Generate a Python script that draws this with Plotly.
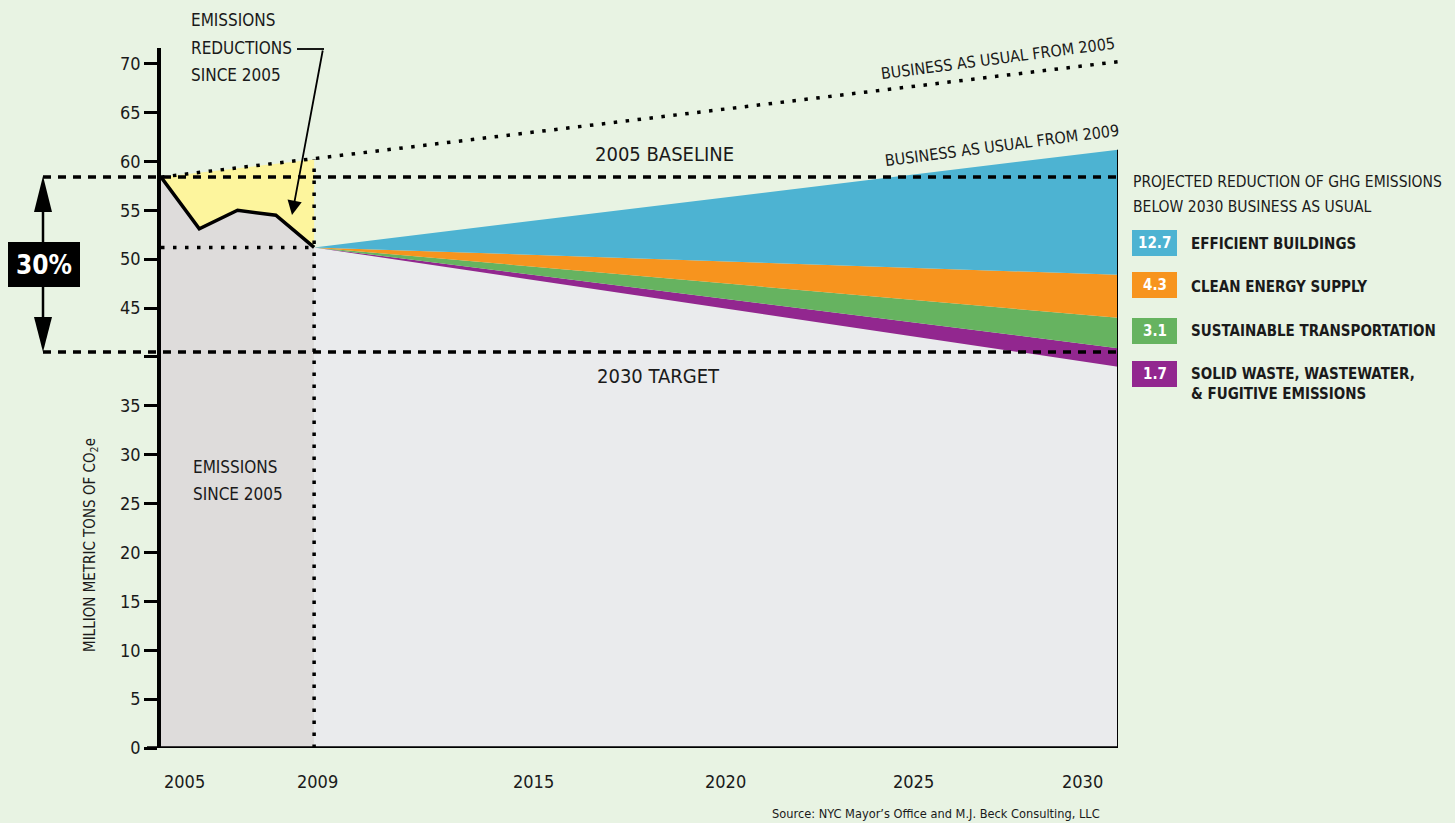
import plotly.graph_objects as go

# ---------------- data ----------------
hist_years = [2005, 2006, 2007, 2008, 2009]
hist_emissions = [58.4, 53.1, 55.0, 54.5, 51.2]

bau2005_years = [2005, 2030]
bau2005_values = [58.4, 70.2]
bau2005_at_2009 = 60.2

proj_years = [2009, 2030]
bau2009_values = [51.2, 61.2]           # top of blue wedge
after_buildings = [51.2, 48.4]          # bottom of blue / top of orange
after_energy = [51.2, 44.0]             # bottom of orange / top of green
after_transport = [51.2, 40.9]          # bottom of green / top of purple
after_waste = [51.2, 39.0]              # bottom of purple

baseline_2005 = 58.4
target_2030 = 40.5

legend_values = ["12.7", "4.3", "3.1", "1.7"]
legend_labels = ["EFFICIENT BUILDINGS", "CLEAN ENERGY SUPPLY", "SUSTAINABLE TRANSPORTATION",
                 "SOLID WASTE, WASTEWATER,<br>& FUGITIVE EMISSIONS"]
legend_colors = ["#4db3d2", "#f7941e", "#66b360", "#92278f"]

y_ticks = [0, 5, 10, 15, 20, 25, 30, 35, 40, 45, 50, 55, 60, 65, 70]
y_ticktext = ["0", "5", "10", "15", "20", "25", "30", "35", "", "45", "50", "55", "60", "65", "70"]
x_labels = ["2005", "2009", "2015", "2020", "2025", "2030"]

# ---------------- layout geometry ----------------
W, H = 1455, 823
L, R, T, B = 161, 1118, 48, 748
FONT = "DejaVu Sans Condensed, DejaVu Sans, sans-serif"
TXT = "#1a1a1a"
BG = "#e8f3e3"


def px(xp):
    return (xp - L) / (R - L)


def py(yp):
    return (B - yp) / (B - T)


fig = go.Figure()

# yellow area: reductions since 2005
fig.add_trace(go.Scatter(x=[2005, 2009], y=[bau2005_values[0], bau2005_at_2009], mode="lines",
                         line=dict(width=0, color="rgba(0,0,0,0)"), hoverinfo="skip", showlegend=False))
fig.add_trace(go.Scatter(x=hist_years, y=hist_emissions, mode="lines", fill="tonexty",
                         fillcolor="#fdf59d", line=dict(width=0, color="rgba(0,0,0,0)"),
                         hoverinfo="skip", showlegend=False))
# grey area: emissions since 2005
fig.add_trace(go.Scatter(x=hist_years, y=hist_emissions, mode="lines", fill="tozeroy",
                         fillcolor="#dedcdb", line=dict(width=0, color="rgba(0,0,0,0)"),
                         hoverinfo="skip", showlegend=False))
# projected area
fig.add_trace(go.Scatter(x=proj_years, y=after_waste, mode="lines", fill="tozeroy",
                         fillcolor="#eaebed", line=dict(width=0, color="rgba(0,0,0,0)"),
                         hoverinfo="skip", showlegend=False))
for vals, col in [(after_transport, legend_colors[3]), (after_energy, legend_colors[2]),
                  (after_buildings, legend_colors[1]), (bau2009_values, legend_colors[0])]:
    fig.add_trace(go.Scatter(x=proj_years, y=vals, mode="lines", fill="tonexty",
                             fillcolor=col, line=dict(width=0, color=col),
                             hoverinfo="skip", showlegend=False))

# emissions line
fig.add_trace(go.Scatter(x=hist_years, y=hist_emissions, mode="lines",
                         line=dict(width=3.5, color="black"), hoverinfo="skip", showlegend=False))
# BAU from 2005 dotted
fig.add_trace(go.Scatter(x=bau2005_years, y=bau2005_values, mode="lines",
                         line=dict(width=3.5, color="black", dash="3.5px,8.5px"),
                         hoverinfo="skip", showlegend=False))

shapes = []
# baseline / target dashed lines
for v in [baseline_2005, target_2030]:
    shapes.append(dict(type="line", xref="paper", yref="y", x0=px(43), x1=1.0, y0=v, y1=v,
                       line=dict(color="black", width=3.5, dash="8px,7px")))
# dotted reference lines
shapes.append(dict(type="line", xref="x", yref="y", x0=2005, x1=2009, y0=hist_emissions[-1],
                   y1=hist_emissions[-1], line=dict(color="black", width=3.5, dash="3.5px,8.5px")))
shapes.append(dict(type="line", xref="x", yref="y", x0=2009, x1=2009, y0=0, y1=bau2005_at_2009,
                   line=dict(color="black", width=3.5, dash="3.5px,8.5px")))
# x axis line extended left
shapes.append(dict(type="line", xref="paper", yref="y", x0=px(147), x1=1.0, y0=0, y1=0,
                   line=dict(color="black", width=3.5)))
# right border
shapes.append(dict(type="line", xref="x", yref="y", x0=2030, x1=2030, y0=0, y1=bau2009_values[-1],
                   line=dict(color="black", width=2)))
# 30% arrow
shapes.append(dict(type="line", xref="paper", yref="paper", x0=px(43), x1=px(43), y0=py(205), y1=py(325),
                   line=dict(color="black", width=2.5)))
shapes.append(dict(type="path", xref="paper", yref="paper",
                   path=f"M {px(43)},{py(176)} L {px(34)},{py(212)} L {px(52)},{py(212)} Z",
                   fillcolor="black", line=dict(width=0)))
shapes.append(dict(type="path", xref="paper", yref="paper",
                   path=f"M {px(43)},{py(352)} L {px(34)},{py(317)} L {px(52)},{py(317)} Z",
                   fillcolor="black", line=dict(width=0)))
shapes.append(dict(type="rect", xref="paper", yref="paper", x0=px(8), x1=px(80), y0=py(287), y1=py(242),
                   fillcolor="black", line=dict(width=0)))
# emissions reductions pointer horizontal segment
shapes.append(dict(type="line", xref="paper", yref="paper", x0=px(297), x1=px(324), y0=py(49), y1=py(49),
                   line=dict(color="black", width=1.8)))
# legend boxes
box_tops = [230, 272, 318, 361]
for top, col in zip(box_tops, legend_colors):
    shapes.append(dict(type="rect", xref="paper", yref="paper", x0=px(1132), x1=px(1177),
                       y0=py(top + 26), y1=py(top), fillcolor=col, line=dict(width=0)))

annotations = []


def text(x, y, s, size=18, color=TXT, xanchor="left", angle=0, bold=False):
    if bold:
        s = "<b>" + s + "</b>"
    annotations.append(dict(xref="paper", yref="paper", x=px(x), y=py(y), text=s, showarrow=False,
                            xanchor=xanchor, yanchor="middle", textangle=angle,
                            font=dict(family=FONT, size=size, color=color)))


text(189, 20, "EMISSIONS", size=17)
text(189, 48, "REDUCTIONS", size=17)
text(189, 75, "SINCE 2005", size=17)
text(191, 467, "EMISSIONS", size=17)
text(191, 494, "SINCE 2005", size=17)
text(664, 154, "2005 BASELINE", size=20, xanchor="center")
text(658, 376, "2030 TARGET", size=20, xanchor="center")
text(998, 59, "BUSINESS AS USUAL FROM 2005", size=16, xanchor="center", angle=-7.5)
text(1002, 145, "BUSINESS AS USUAL FROM 2009", size=16, xanchor="center", angle=-7.5)
text(44, 265, "30%", size=26, color="white", xanchor="center", bold=True)
text(1131, 182, "PROJECTED REDUCTION OF GHG EMISSIONS", size=15.5)
text(1131, 207, "BELOW 2030 BUSINESS AS USUAL", size=15.5)
label_y = [244, 287, 331, 384]
for top, v, lab, ly in zip(box_tops, legend_values, legend_labels, label_y):
    text(1154.5, top + 13, v, size=15, color="white", xanchor="center", bold=True)
    annotations.append(dict(xref="paper", yref="paper", x=px(1189), y=py(ly), text="<b>" + lab + "</b>",
                            showarrow=False, xanchor="left", yanchor="middle", align="left",
                            font=dict(family=FONT, size=15, color=TXT)))
# x tick labels
for lab, cx in zip(x_labels, [184, 317, 533, 725, 913, 1082]):
    text(cx, 782, lab, size=18, xanchor="center")
# y axis title
annotations.append(dict(xref="paper", yref="paper", x=px(90), y=py(545), text="MILLION METRIC TONS OF CO<sub>2</sub>e",
                        showarrow=False, textangle=-90, xanchor="center", yanchor="middle",
                        font=dict(family=FONT, size=15, color=TXT)))
text(1102, 813, "Source: NYC Mayor\u2019s Office and M.J. Beck Consulting, LLC", size=12.7, xanchor="right")
# pointer arrow
annotations.append(dict(xref="x", yref="y", x=2005 + (292 - L) / (R - L) * 25, y=(B - 215) / (B - T) * 71.6,
                        ax=31, ay=-166, axref="pixel", ayref="pixel", text="", showarrow=True,
                        arrowhead=2, arrowsize=1.6, arrowwidth=1.8, arrowcolor="black"))

fig.update_layout(
    width=W, height=H,
    paper_bgcolor=BG, plot_bgcolor=BG,
    margin=dict(l=L, r=W - R, t=T, b=H - B),
    xaxis=dict(range=[2005, 2030], showgrid=False, zeroline=False, showticklabels=False,
               showline=False, ticks=""),
    yaxis=dict(range=[0, 71.6], showgrid=False, zeroline=False, showline=True, linecolor="black",
               linewidth=3.5, ticks="outside", ticklen=13, tickwidth=2.5, tickcolor="black",
               tickvals=y_ticks, ticktext=y_ticktext,
               tickfont=dict(family=FONT, size=18, color=TXT)),
    shapes=shapes, annotations=annotations, showlegend=False,
)

fig.write_html("out.html", config={"displayModeBar": False},
               post_script="document.body.style.margin='0';document.body.style.overflow='hidden';")
